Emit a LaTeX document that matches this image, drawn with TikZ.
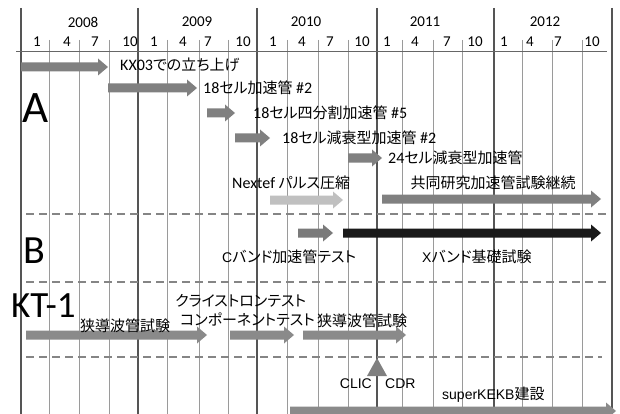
\documentclass[tikz,border=0pt]{standalone}
\usepackage{fontspec}
\setmainfont{Carlito}
\newfontfamily\jp[RawFeature=+palt]{Noto Sans CJK JP}
\newfontfamily\arl{Liberation Sans}
\newcommand\latn[1]{{\normalfont\fontsize{16}{18}\selectfont #1}}
\newcommand\arx[1]{{\arl\fontsize{14}{16}\selectfont #1}}
\definecolor{barmid}{HTML}{808080}
\definecolor{barlight}{HTML}{C0C0C0}
\definecolor{bardark}{HTML}{1A1A1A}
\definecolor{barkt}{HTML}{8A8A8A}
\definecolor{ylinec}{HTML}{555555}
\definecolor{qlinec}{HTML}{9A9A9A}
\definecolor{sepc}{HTML}{858585}
\newcommand\timebar[4]{\fill[#1] (#2,{#4-4.5}) -- ({#3-10},{#4-4.5}) -- ({#3-10},{#4-8.5}) -- (#3,#4) -- ({#3-10},{#4+8.5}) -- ({#3-10},{#4+4.5}) -- (#2,{#4+4.5}) -- cycle;}
\tikzset{
  yline/.style={draw=ylinec, line width=2pt},
  qline/.style={draw=qlinec, line width=0.9pt},
  hline/.style={draw=ylinec!90, line width=1pt},
  sepline/.style={draw=sepc, line width=1.6pt, dash pattern=on 8pt off 5pt},
  yr/.style={inner sep=0, font=\fontsize{15}{18}\selectfont},
  mo/.style={inner sep=0, font=\fontsize{15}{18}\selectfont},
  big/.style={inner sep=0, anchor=base west},
  lbl/.style={anchor=west, inner sep=0, font=\jp\fontsize{15}{18}\selectfont, text=black}
}
\begin{document}
\begin{tikzpicture}[x=1pt,y=-1pt]
\useasboundingbox (0,0) rectangle (620,414);
\fill[white] (0,0) rectangle (620,414);
% grid
\foreach \x in {49,79,109,167,199,228,287,318,348,402,433,462,522,552,582}
  \draw[qline] (\x,40) -- (\x,414);
\foreach \x in {21,138,257,377,494,612}
  \draw[yline] (\x,8) -- (\x,414);
\draw[hline] (16,52) -- (607,52);
% years
\foreach \x/\t in {83/2008,197/2009,306/2010,425/2011,545/2012}
  \node[yr] (y\t) at (\x,22) {\t};
% months
\foreach \x/\t in {37/1,67/4,95/7,130/10,154/1,183/4,208/7,243/10,273/1,302/4,330/7,362/10,387/1,415/4,447/7,475/10,504/1,530/4,558/7,592/10}
  \node[mo] (m\x) at (\x,42) {\t};
% separators
\draw[sepline] (26,214) -- (608,214);
\draw[sepline] (26,282) -- (608,282);
\draw[sepline] (26,357) -- (602,357);
% section letters
\node[big, font=\fontsize{45}{50}\selectfont] (secA) at (22,123) {A};
\node[big, font=\fontsize{40}{46}\selectfont] (secB) at (23,263) {B};
\node[big, font=\fontsize{37}{42}\selectfont] (secKT) at (11,317) {KT-1};
% section A bars
\timebar{barmid}{21}{108}{67}
\timebar{barmid}{108}{197}{88}
\timebar{barmid}{207}{235}{113}
\timebar{barmid}{235}{270}{138}
\timebar{barmid}{348}{382}{158}
\timebar{barlight}{270}{343}{200}
\timebar{barmid}{382}{601}{199}
% section B bars
\timebar{barmid!95!black}{298}{333}{233}
\timebar{bardark}{343}{601}{233}
% KT-1 bars
\timebar{barkt}{26}{207}{335}
\timebar{barkt}{230}{294}{335}
\timebar{barkt}{303}{406}{335}
% superKEKB bar
\timebar{barkt}{290}{616}{411}
% CLIC CDR marker
\fill[barmid] (377,358) -- (387,376) -- (367,376) -- cycle;
% labels A
\node[lbl] (tKX) at (120,65) {\latn{KX03}での立ち上げ};
\node[lbl] (t18a) at (203,88) {\latn{18}セル加速管 \latn{\#2}};
\node[lbl] (t18b) at (253,113) {\latn{18}セル四分割加速管 \latn{\#5}};
\node[lbl] (t18c) at (282,138) {\latn{18}セル減衰型加速管 \latn{\#2}};
\node[lbl] (t24) at (388,158) {\latn{24}セル減衰型加速管};
\node[lbl] (tNx) at (232,183) {\latn{Nextef} パルス圧縮};
\node[lbl, anchor=center] (tKyo) at (493,183) {共同研究加速管試験継続};
% labels B
\node[lbl] (tC) at (222,257) {\arx{C}バンド加速管テスト};
\node[lbl] (tX) at (422,257) {\arx{X}バンド基礎試験};
% labels KT-1
\node[lbl] (tKly) at (175,301) {クライストロンテスト};
\node[lbl] (tComp) at (180,319) {コンポーネントテスト};
\node[lbl] (tKyou1) at (80,326) {狭導波管試験};
\node[lbl] (tKyou2) at (317,321) {狭導波管試験};
% bottom labels
\node[inner sep=0, anchor=east, font=\arl\fontsize{14}{16}\selectfont] (tCLIC) at (372,384) {CLIC};
\node[inner sep=0, anchor=west, font=\arl\fontsize{14}{16}\selectfont] (tCDR) at (385,384) {CDR};
\node[lbl] (tSK) at (442,395) {\arx{superKEKB}建設};
\end{tikzpicture}
\end{document}
